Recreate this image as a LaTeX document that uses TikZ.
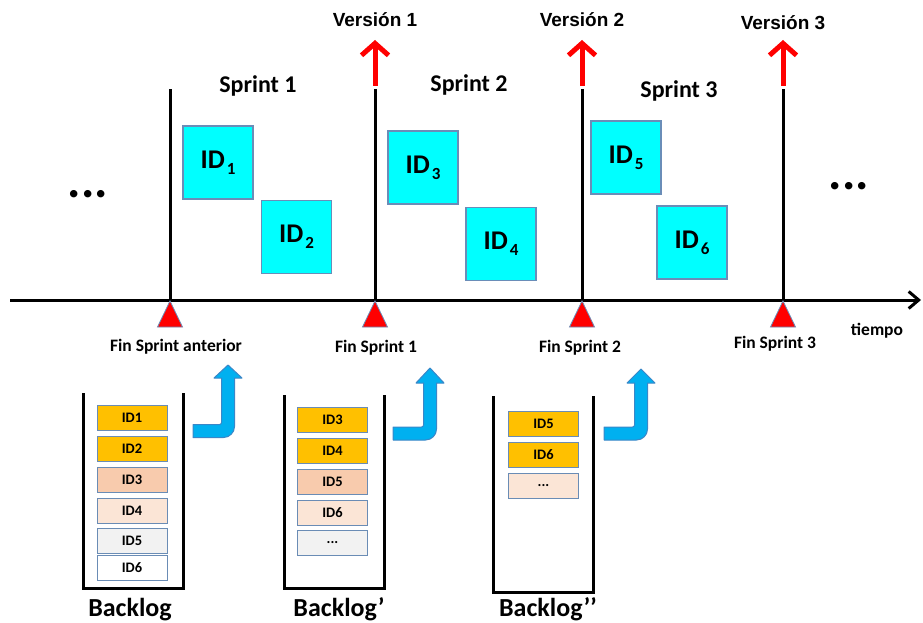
\documentclass[tikz,border=0pt]{standalone}
\usepackage{fontspec}
\setmainfont{Carlito}
\newfontfamily\arialfont{Liberation Sans}
\usetikzlibrary{arrows.meta}

\definecolor{idcyan}{HTML}{00FFFF}
\definecolor{boxline}{HTML}{6A8DB8}
\definecolor{itemline}{HTML}{6A8CB5}
\definecolor{todo}{HTML}{FFC000}
\definecolor{peach}{HTML}{F8CBAD}
\definecolor{lightpeach}{HTML}{FBE5D6}
\definecolor{lightgray}{HTML}{F2F2F2}
\definecolor{flowblue}{HTML}{00B0F0}
\definecolor{flowline}{HTML}{3A87C8}
\definecolor{relred}{HTML}{FF0000}

\begin{document}
\begin{tikzpicture}[x=1pt,y=-1pt,
  fs/.style={font=\fontsize{#1}{#1}\selectfont\bfseries},
  label/.style={fs=#1, anchor=base, inner sep=0pt},
  vlabel/.style={font=\arialfont\fontsize{19}{19}\selectfont\bfseries, anchor=base, inner sep=0pt},
  idbox/.style={draw=boxline, line width=1.2pt, fill=idcyan, minimum width=70pt, minimum height=73pt, inner sep=0pt, fs=27},
  item/.style={draw=itemline, line width=1pt, fill=#1, minimum width=70pt, minimum height=25pt, inner sep=0pt, fs=14.5},
  axis/.style={line width=3pt},
  release/.style={draw=relred, line width=5pt, -{Straight Barb[length=12pt,width=27pt]}},
  marker/.style={fill=relred, draw=boxline, line width=0.8pt},
  stack/.style={line width=3pt},
  flow/.style={fill=flowblue, draw=flowline, line width=1pt, line join=round},
]
\useasboundingbox (0,0) rectangle (923,623);

% time axis
\coordinate (tstart) at (10,300);
\coordinate (tend) at (921,300);
\draw[axis, -{Straight Barb[length=10pt,width=17pt]}] (tstart) -- (tend);
\node[label=17.5] (tiempo) at (877,335) {tiempo};

% sprint boundaries with end markers
\foreach \n/\x in {0/170,1/375,2/582,3/783}{
  \coordinate (base\n) at (\x,300);
  \coordinate (top\n) at (\x,89);
  \draw[axis] (base\n) -- (top\n);
  \path[marker] (\x,301) -- (\x+12.5,327) -- (\x-12.5,327) -- cycle;
}

% releases
\foreach \n/\x in {1/375,2/582,3/783}{
  \coordinate (rel\n) at (\x,40);
  \draw[release] (\x,86) -- (rel\n);
}
\node[vlabel] (v1) at (375,27) {Versión 1};
\node[vlabel] (v2) at (582,27) {Versión 2};
\node[vlabel] (v3) at (783,30) {Versión 3};

% sprint titles
\node[label=24] (s1) at (258,93) {Sprint 1};
\node[label=24] (s2) at (469,92) {Sprint 2};
\node[label=24] (s3) at (679,98) {Sprint 3};

% sprint items
\newcommand{\idtag}[1]{ID\kern2pt\raisebox{-6pt}{\fontsize{17}{17}\selectfont\bfseries #1}}
\node[idbox] (id1) at (218,162.5) {\idtag{1}};
\node[idbox] (id2) at (296.5,237) {\idtag{2}};
\node[idbox] (id3) at (423,167.5) {\idtag{3}};
\node[idbox] (id4) at (501,244) {\idtag{4}};
\node[idbox] (id5) at (626,157.5) {\idtag{5}};
\node[idbox] (id6) at (692,242.5) {\idtag{6}};

% continuation dots
\node[label=50] (dotsl) at (88,197) {...};
\node[label=50] (dotsr) at (849,189) {...};

% end-of-sprint labels
\node[label=17.5] (f0) at (176,351) {Fin Sprint anterior};
\node[label=17.5] (f1) at (376,352) {Fin Sprint 1};
\node[label=17.5] (f2) at (580,352) {Fin Sprint 2};
\node[label=17.5] (f3) at (775,348) {Fin Sprint 3};

% backlog containers
\draw[stack] (83,393) -- (83,588) -- (183,588) -- (183,393);
\draw[stack] (284,395) -- (284,588) -- (384,588) -- (384,395);
\draw[stack] (493,396) -- (493,592) -- (593,592) -- (593,396);

\node[label=26] (bl0) at (130,616) {Backlog};
\node[label=26] (bl1) at (339,616) {Backlog’};
\node[label=26] (bl2) at (548,616) {Backlog’’};

% backlog contents
\node[item=todo]       (a1) at (132,417.5) {ID1};
\node[item=todo]       (a2) at (132,449)   {ID2};
\node[item=peach]      (a3) at (132,480)   {ID3};
\node[item=lightpeach] (a4) at (132,511)   {ID4};
\node[item=lightgray]  (a5) at (132,540.5) {ID5};
\node[item=white]      (a6) at (132,568)   {ID6};

\node[item=todo]       (b3) at (332.5,419.5) {ID3};
\node[item=todo]       (b4) at (332.5,450.5) {ID4};
\node[item=peach]      (b5) at (332.5,481.5) {ID5};
\node[item=lightpeach] (b6) at (332.5,512.5) {ID6};
\node[item=lightgray]  (b7) at (332.5,543)   {...};

\node[item=todo]       (c5) at (543.5,424)   {ID5};
\node[item=todo]       (c6) at (543.5,455)   {ID6};
\node[item=lightpeach] (c7) at (543.5,485.5) {...};

% hand-over arrows from backlog to sprint
\newcommand{\handover}[5]{% x0, yc, xc, head base, tip
  \path[flow] (#1,#2+6.5) [rounded corners=11pt] -- (#3+6.5,#2+6.5) [sharp corners] -- (#3+6.5,#4)
    -- (#3+14,#4) -- (#3,#5) -- (#3-14,#4) -- (#3-6.5,#4)
    [rounded corners=2pt] -- (#3-6.5,#2-6.5) [sharp corners] -- (#1,#2-6.5) -- cycle;}
\handover{193}{431}{228}{378}{365}
\handover{393}{433.5}{430}{383}{368}
\handover{604}{433.5}{641}{383}{369}
\end{tikzpicture}
\end{document}
